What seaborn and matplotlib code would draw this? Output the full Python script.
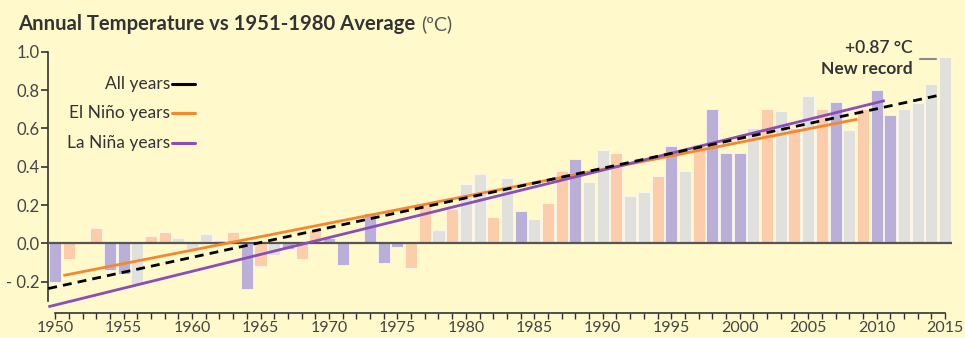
import numpy as np
import pandas as pd
import matplotlib
matplotlib.use("Agg")
import matplotlib.pyplot as plt
from matplotlib.ticker import MultipleLocator
import seaborn as sns

# Global temperature anomaly vs 1951-1980 mean, by year
years = list(range(1950, 2016))
anomaly = [
    -0.20, -0.08, 0.01, 0.08, -0.14, -0.16, -0.21, 0.04, 0.06, 0.03,   # 1950s
    -0.03, 0.05, 0.02, 0.06, -0.24, -0.12, -0.06, -0.03, -0.08, 0.07,  # 1960s
    0.03, -0.11, 0.01, 0.16, -0.10, -0.02, -0.13, 0.20, 0.07, 0.18,    # 1970s
    0.31, 0.36, 0.14, 0.34, 0.17, 0.13, 0.21, 0.38, 0.44, 0.32,        # 1980s
    0.49, 0.47, 0.25, 0.27, 0.35, 0.51, 0.38, 0.52, 0.70, 0.47,        # 1990s
    0.47, 0.60, 0.70, 0.69, 0.60, 0.77, 0.70, 0.74, 0.59, 0.70,        # 2000s
    0.80, 0.67, 0.70, 0.73, 0.83, 0.97,                                # 2010s
]
# ENSO phase of each year: "nino" = El Niño, "nina" = La Niña, "neutral"
phase = [
    "nina", "nino", "neutral", "nino", "nina", "nina", "neutral", "nino", "nino", "neutral",
    "neutral", "neutral", "neutral", "nino", "nina", "nino", "neutral", "nina", "nino", "nino",
    "nina", "nina", "neutral", "nina", "nina", "nina", "nino", "nino", "neutral", "nino",
    "neutral", "neutral", "nino", "neutral", "nina", "neutral", "nino", "nino", "nina", "neutral",
    "neutral", "nino", "neutral", "neutral", "nino", "nina", "neutral", "nino", "nina", "nina",
    "nina", "neutral", "nino", "neutral", "nino", "neutral", "nino", "nina", "neutral", "nino",
    "nina", "nina", "neutral", "neutral", "neutral", "neutral",
]

# Linear trend lines (start/end year and value)
trend_all_x = [1949.5, 2014.7]
trend_all_y = [-0.235, 0.775]
trend_nino_x = [1950.6, 2008.6]
trend_nino_y = [-0.167, 0.648]
trend_nina_x = [1949.5, 2010.6]
trend_nina_y = [-0.330, 0.745]

record_label = "+0.87 °C"
record_note = "New record"

y_ticks = [-0.2, 0.0, 0.2, 0.4, 0.6, 0.8, 1.0]
y_ticklabels = ["- 0.2", "0.0", "0.2", "0.4", "0.6", "0.8", "1.0"]
x_ticks = list(range(1950, 2016, 5))

BG = "#FFF9CC"
TEXT = "#333333"
bar_colors = {"nina": "#B9AFD9", "nino": "#FBCDAB", "neutral": "#E0E0DD"}
line_nino = "#F5882C"
line_nina = "#8B4DB6"

sns.set_theme(style="white")
plt.rcParams["font.family"] = ["Lato", "DejaVu Sans"]

W, H = 965, 338
fig = plt.figure(figsize=(W / 100, H / 100), dpi=100, facecolor=BG)


def fx(px):
    return px / W


def fy(py):
    return 1 - py / H


ax = fig.add_axes([fx(48.3), fy(301), fx(951.9) - fx(48.3), fy(51.7) - fy(301)])
ax.set_facecolor(BG)

df = pd.DataFrame({"year": years, "anomaly": anomaly, "phase": phase})
sns.barplot(data=df, x="year", y="anomaly", hue="phase", palette=bar_colors,
            native_scale=True, dodge=False, width=0.88, errorbar=None,
            saturation=1, legend=False, edgecolor="#FBF8EE", linewidth=0.6,
            ax=ax, zorder=2)

ax.axhline(0, color="#555555", lw=1.6, zorder=3)

ax.plot(trend_nino_x, trend_nino_y, color=line_nino, lw=2.0, zorder=4,
        solid_capstyle="butt", clip_on=False)
ax.plot(trend_nina_x, trend_nina_y, color=line_nina, lw=2.0, zorder=4,
        solid_capstyle="butt", clip_on=False)
ax.plot(trend_all_x, trend_all_y, color="black", lw=2.0, ls=(0, (3.2, 2.2)),
        zorder=5, clip_on=False)

ax.set_xlim(1949.5, 2015.5)
ax.set_ylim(-0.30, 1.0)
ax.set_xticks(x_ticks)
ax.set_xticklabels([str(y) for y in x_ticks])
ax.xaxis.set_minor_locator(MultipleLocator(1))
ax.set_yticks(y_ticks)
ax.set_yticklabels(y_ticklabels)
ax.set_xlabel("")
ax.set_ylabel("")

for s in ("top", "right"):
    ax.spines[s].set_visible(False)
ax.spines["left"].set_color(TEXT)
ax.spines["left"].set_linewidth(1.2)
ax.spines["bottom"].set_color(TEXT)
ax.spines["bottom"].set_linewidth(1.2)
ax.spines["bottom"].set_position(("outward", 12 * 0.72))
ax.spines["bottom"].set_bounds(1950, 2015)

ax.tick_params(axis="y", which="major", direction="out", length=5, width=1.2,
               color=TEXT, labelsize=12, labelcolor="#444444", pad=1, left=True)
ax.tick_params(axis="x", which="both", direction="out", length=4.5, width=1.0,
               color=TEXT, labelsize=11.5, labelcolor="#444444", pad=1, bottom=True)

# Title: bold caption followed by the unit in regular weight
t1 = fig.text(fx(18), fy(24), "Annual Temperature vs 1951-1980 Average",
              fontsize=14.6, fontweight="bold", color=TEXT, va="center", ha="left")
fig.canvas.draw()
bb = t1.get_window_extent()
fig.text(bb.x1 / W + fx(6), fy(24), "(ºC)", fontsize=14, color="#555555",
         va="center", ha="left")

# Legend drawn as right-aligned labels with short line keys
legend_items = [("All years", "black", 84), ("El Niño years", line_nino, 113),
                ("La Niña years", line_nina, 143)]
for label, col, py in legend_items:
    fig.text(fx(170), fy(py), label, fontsize=12.5, color=TEXT, ha="right", va="center")
    fig.add_artist(plt.Line2D([fx(172), fx(195)], [fy(py), fy(py)], color=col, lw=2.2,
                              transform=fig.transFigure))

# Record annotation
fig.text(fx(913), fy(48), record_label, fontsize=12.5, color=TEXT, ha="right",
         va="center", fontweight="semibold")
fig.text(fx(913), fy(69), record_note, fontsize=12.5, color=TEXT, ha="right",
         va="center", fontweight="bold")
fig.add_artist(plt.Line2D([fx(920), fx(936)], [fy(59), fy(59)], color="#8A8A8A", lw=1.5,
                          transform=fig.transFigure))

fig.savefig("out.png", dpi=100, facecolor=BG)
